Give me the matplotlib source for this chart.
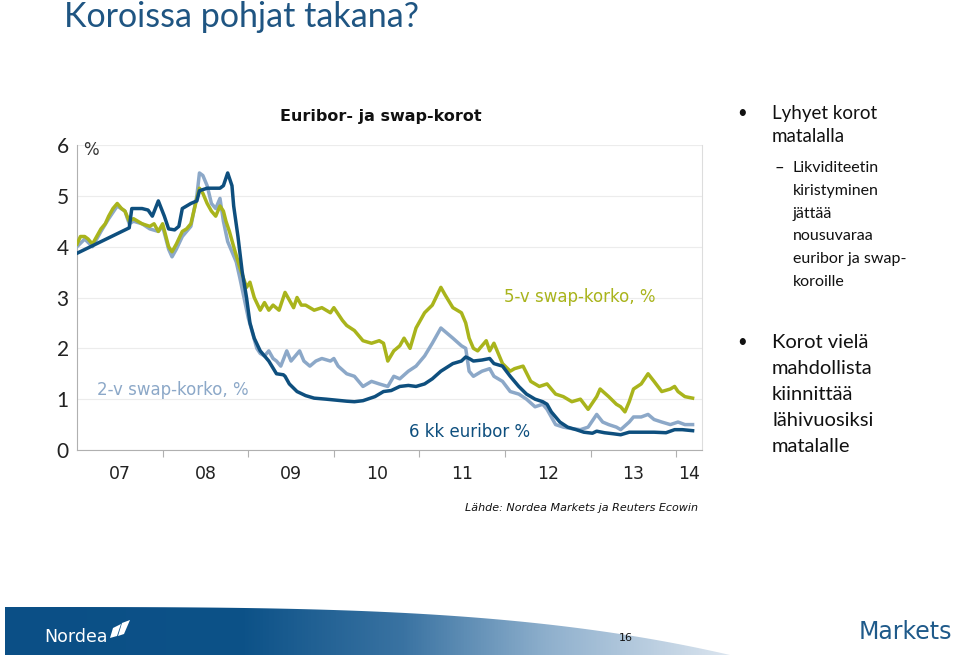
import numpy as np
import matplotlib.pyplot as plt
from matplotlib.patches import Polygon
from matplotlib.colors import LinearSegmentedColormap

# 6 kk euribor
eur_x = [2007.00, 2007.61, 2007.64, 2007.76, 2007.83, 2007.88, 2007.95, 2008.02, 2008.07, 2008.14,
         2008.19, 2008.23, 2008.33, 2008.40, 2008.43, 2008.52, 2008.67, 2008.71, 2008.76, 2008.81,
         2008.83, 2008.88, 2008.93, 2008.98, 2009.02, 2009.07, 2009.14, 2009.24, 2009.33, 2009.41,
         2009.43, 2009.48, 2009.57, 2009.67, 2009.77, 2009.91, 2010.15, 2010.24, 2010.34, 2010.48,
         2010.58, 2010.67, 2010.77, 2010.87, 2010.96, 2011.06, 2011.15, 2011.25, 2011.39, 2011.49,
         2011.54, 2011.58, 2011.63, 2011.73, 2011.82, 2011.87, 2011.97, 2012.06, 2012.16, 2012.25,
         2012.35, 2012.44, 2012.49, 2012.54, 2012.64, 2012.73, 2012.83, 2012.92, 2013.02, 2013.07,
         2013.16, 2013.26, 2013.35, 2013.45, 2013.59, 2013.74, 2013.88, 2013.98, 2014.07, 2014.19]
eur_y = [3.87, 4.37, 4.75, 4.75, 4.72, 4.60, 4.90, 4.60, 4.35, 4.33,
         4.40, 4.75, 4.85, 4.90, 5.10, 5.15, 5.15, 5.20, 5.45, 5.20,
         4.80, 4.20, 3.50, 3.00, 2.50, 2.20, 1.95, 1.75, 1.50, 1.48,
         1.45, 1.30, 1.15, 1.07, 1.02, 1.00, 0.96, 0.95, 0.97, 1.05,
         1.15, 1.17, 1.25, 1.27, 1.25, 1.30, 1.40, 1.55, 1.70, 1.75,
         1.83, 1.80, 1.75, 1.77, 1.80, 1.70, 1.65, 1.45, 1.25, 1.10,
         1.00, 0.95, 0.90, 0.75, 0.55, 0.45, 0.40, 0.35, 0.33, 0.37,
         0.34, 0.32, 0.30, 0.35, 0.35, 0.35, 0.34, 0.40, 0.40, 0.38]

# 5-v swap-korko
s5_x = [2007.00, 2007.04, 2007.09, 2007.13, 2007.18, 2007.23, 2007.28, 2007.33, 2007.37, 2007.42,
        2007.47, 2007.52, 2007.56, 2007.61, 2007.66, 2007.76, 2007.85, 2007.90, 2007.95, 2008.00,
        2008.07, 2008.11, 2008.16, 2008.23, 2008.28, 2008.33, 2008.40, 2008.43, 2008.47, 2008.52,
        2008.57, 2008.62, 2008.67, 2008.71, 2008.74, 2008.78, 2008.83, 2008.90, 2008.98, 2009.02,
        2009.07, 2009.14, 2009.19, 2009.24, 2009.29, 2009.36, 2009.43, 2009.48, 2009.53, 2009.57,
        2009.62, 2009.67, 2009.77, 2009.86, 2009.96, 2010.00, 2010.10, 2010.15, 2010.24, 2010.34,
        2010.44, 2010.53, 2010.58, 2010.63, 2010.70, 2010.77, 2010.82, 2010.89, 2010.96, 2011.06,
        2011.15, 2011.25, 2011.30, 2011.39, 2011.49, 2011.54, 2011.58, 2011.63, 2011.68, 2011.78,
        2011.82, 2011.87, 2011.97, 2012.06, 2012.11, 2012.21, 2012.30, 2012.40, 2012.49, 2012.59,
        2012.68, 2012.78, 2012.88, 2012.97, 2013.07, 2013.11, 2013.21, 2013.30, 2013.35, 2013.40,
        2013.45, 2013.50, 2013.59, 2013.67, 2013.74, 2013.83, 2013.93, 2013.98, 2014.02, 2014.10,
        2014.19]
s5_y = [4.05, 4.20, 4.20, 4.15, 4.05, 4.20, 4.35, 4.45, 4.60, 4.75,
        4.85, 4.75, 4.70, 4.50, 4.55, 4.45, 4.40, 4.45, 4.30, 4.45,
        4.00, 3.90, 4.05, 4.30, 4.35, 4.45, 4.95, 5.15, 5.05, 4.85,
        4.70, 4.60, 4.80, 4.70, 4.50, 4.30, 4.00, 3.60, 3.20, 3.30,
        3.00, 2.75, 2.90, 2.75, 2.85, 2.75, 3.10, 2.95, 2.80, 3.00,
        2.85, 2.85, 2.75, 2.80, 2.70, 2.80, 2.55, 2.45, 2.35, 2.15,
        2.10, 2.15, 2.10, 1.75, 1.95, 2.05, 2.20, 2.00, 2.40, 2.70,
        2.85, 3.20, 3.05, 2.80, 2.70, 2.50, 2.20, 2.00, 1.95, 2.15,
        1.95, 2.10, 1.70, 1.55, 1.60, 1.65, 1.35, 1.25, 1.30, 1.10,
        1.05, 0.95, 1.00, 0.80, 1.05, 1.20, 1.05, 0.90, 0.85, 0.75,
        0.95, 1.20, 1.30, 1.50, 1.35, 1.15, 1.20, 1.25, 1.15, 1.05,
        1.02]

# 2-v swap-korko
s2_x = [2007.00, 2007.09, 2007.18, 2007.28, 2007.37, 2007.47, 2007.56, 2007.61, 2007.66, 2007.76,
        2007.85, 2007.95, 2008.00, 2008.07, 2008.11, 2008.16, 2008.23, 2008.28, 2008.33, 2008.40,
        2008.43, 2008.47, 2008.52, 2008.57, 2008.62, 2008.67, 2008.71, 2008.76, 2008.81, 2008.86,
        2008.90, 2008.95, 2009.00, 2009.05, 2009.10, 2009.14, 2009.19, 2009.24, 2009.29, 2009.33,
        2009.38, 2009.45, 2009.50, 2009.55, 2009.60, 2009.65, 2009.72, 2009.79, 2009.86, 2009.96,
        2010.00, 2010.05, 2010.15, 2010.24, 2010.34, 2010.44, 2010.53, 2010.63, 2010.70, 2010.77,
        2010.87, 2010.96, 2011.06, 2011.15, 2011.25, 2011.32, 2011.39, 2011.49, 2011.54, 2011.58,
        2011.63, 2011.73, 2011.82, 2011.87, 2011.97, 2012.06, 2012.16, 2012.25, 2012.35, 2012.44,
        2012.49, 2012.59, 2012.68, 2012.78, 2012.88, 2012.97, 2013.07, 2013.14, 2013.21, 2013.30,
        2013.35, 2013.45, 2013.50, 2013.59, 2013.67, 2013.74, 2013.83, 2013.93, 2014.02, 2014.10,
        2014.19]
s2_y = [4.00, 4.15, 4.00, 4.30, 4.55, 4.80, 4.70, 4.45, 4.50, 4.45,
        4.35, 4.30, 4.40, 3.95, 3.80, 3.95, 4.20, 4.30, 4.40, 5.00,
        5.45, 5.40, 5.20, 4.85, 4.75, 4.95, 4.50, 4.10, 3.90, 3.70,
        3.40, 3.00, 2.60, 2.30, 2.00, 1.90, 1.85, 1.95, 1.80, 1.75,
        1.65, 1.95, 1.75, 1.85, 1.95, 1.75, 1.65, 1.75, 1.80, 1.75,
        1.80, 1.65, 1.50, 1.45, 1.25, 1.35, 1.30, 1.25, 1.45, 1.40,
        1.55, 1.65, 1.85, 2.10, 2.40, 2.30, 2.20, 2.05, 2.00, 1.55,
        1.45, 1.55, 1.60, 1.45, 1.35, 1.15, 1.10, 1.00, 0.85, 0.90,
        0.80, 0.50, 0.45, 0.42, 0.40, 0.45, 0.70, 0.55, 0.50, 0.45,
        0.40, 0.55, 0.65, 0.65, 0.70, 0.60, 0.55, 0.50, 0.55, 0.50,
        0.50]

year_labels = ['07', '08', '09', '10', '11', '12', '13', '14']
label_pos = [2007.5, 2008.5, 2009.5, 2010.5, 2011.5, 2012.5, 2013.5, 2014.15]

W, H = 960, 658


def fx(x):
    return x / W


def fy(y):
    return 1 - y / H


fig = plt.figure(figsize=(9.6, 6.58), dpi=100)

# background layer in pixel coordinates
bg = fig.add_axes([0, 0, 1, 1], zorder=0)
xs = np.linspace(5, 730, 200)
top = 607 + 48 * ((xs - 5) / 725) ** 3.5
band = Polygon(list(zip(xs, top)) + [(730, 655), (5, 655)], closed=True,
               facecolor='none', edgecolor='none')
bg.add_patch(band)
cmap = LinearSegmentedColormap.from_list(
    'band', [(0, '#0b4f86'), (0.33, '#0d5288'), (0.55, '#3a73a2'),
             (0.75, '#8fb0cd'), (1, '#dbe5ef')])
im = bg.imshow(np.linspace(0, 1, 512).reshape(1, -1), cmap=cmap,
               extent=[5, 730, 655, 600], aspect='auto')
im.set_clip_path(band)
bg.set_xlim(0, W)
bg.set_ylim(H, 0)
bg.axis('off')

# Nordea sail icon
bg.add_patch(Polygon([(113, 628), (121, 624), (117, 636), (110, 638)], closed=True, facecolor='white'))
bg.add_patch(Polygon([(122, 623), (130, 620), (124, 634), (118, 636)], closed=True, facecolor='white'))

# main chart
ax = fig.add_axes([fx(77), fy(450), (702 - 77) / W, (450 - 145) / H], zorder=2)
ax.patch.set_alpha(0)
ax.plot(s2_x, s2_y, color='#8ca8c8', lw=2.5, zorder=3)
ax.plot(s5_x, s5_y, color='#a9b41c', lw=2.5, zorder=4)
ax.plot(eur_x, eur_y, color='#0e4f7e', lw=2.5, zorder=5)

ax.set_xlim(2007, 2014.3)
ax.set_ylim(0, 6)
ax.set_yticks(range(0, 7))
ax.set_yticklabels([str(v) for v in range(0, 7)], fontsize=15, family='Lato', color='#222222')
ax.grid(axis='y', color='#ececec', lw=0.8)
ax.set_axisbelow(True)
ax.set_xticks(range(2008, 2015))
ax.set_xticklabels([])
ax.set_xticks(label_pos, minor=True)
ax.set_xticklabels(year_labels, minor=True, fontsize=12.5, color='#222222')
ax.tick_params(axis='x', which='major', length=5, color='#b0b0b0')
ax.tick_params(axis='x', which='minor', length=0, pad=11)
ax.tick_params(axis='y', length=0, pad=6)
for s in ['left', 'bottom']:
    ax.spines[s].set_color('#b0b0b0')
ax.spines['right'].set_color('#dddddd')
ax.spines['top'].set_visible(False)

fig.text(fx(83), fy(150), '%', fontsize=12, color='#333333', va='center')
fig.text(fx(381), fy(117), 'Euribor- ja swap-korot', fontsize=11.5, weight='bold',
         ha='center', va='center', color='#111111')
fig.text(fx(504), fy(297), '5-v swap-korko, %', fontsize=12, color='#a9b41c', va='center')
fig.text(fx(97), fy(390), '2-v swap-korko, %', fontsize=12, color='#8ca8c8', va='center')
fig.text(fx(409), fy(432), '6 kk euribor %', fontsize=12, color='#0e4f7e', va='center')
fig.text(fx(465), fy(508), 'Lähde: Nordea Markets ja Reuters Ecowin', fontsize=8,
         style='italic', color='#111111', va='center')

# slide title
fig.text(fx(64), fy(27), 'Koroissa pohjat takana?', fontsize=24.5, family='Lato',
         color='#1f5582', va='baseline')

# bullet texts
txt = dict(family='Lato', color='#111111', va='center')
fig.text(fx(737), fy(113), '•', fontsize=12, **txt)
for i, line in enumerate(['Lyhyet korot', 'matalalla']):
    fig.text(fx(772), fy(113 + 23 * i), line, fontsize=13.5, **txt)
fig.text(fx(775), fy(168), '–', fontsize=12, **txt)
sub = ['Likviditeetin', 'kiristyminen', 'jättää', 'nousuvaraa', 'euribor ja swap-', 'koroille']
for i, line in enumerate(sub):
    fig.text(fx(793), fy(168 + 22.8 * i), line, fontsize=11.5, **txt)
fig.text(fx(737), fy(342), '•', fontsize=12, **txt)
second = ['Korot vielä', 'mahdollista', 'kiinnittää', 'lähivuosiksi', 'matalalle']
for i, line in enumerate(second):
    fig.text(fx(772), fy(342 + 26 * i), line, fontsize=14.5, **txt)

# footer texts
fig.text(fx(44), fy(637), 'Nordea', fontsize=12.5, color='white', va='center')
fig.text(fx(619), fy(638), '16', fontsize=8, color='#111111', va='center')
fig.text(fx(859), fy(632), 'Markets', fontsize=17, color='#1f5a8a', va='center')

fig.savefig('out.png', dpi=100)
